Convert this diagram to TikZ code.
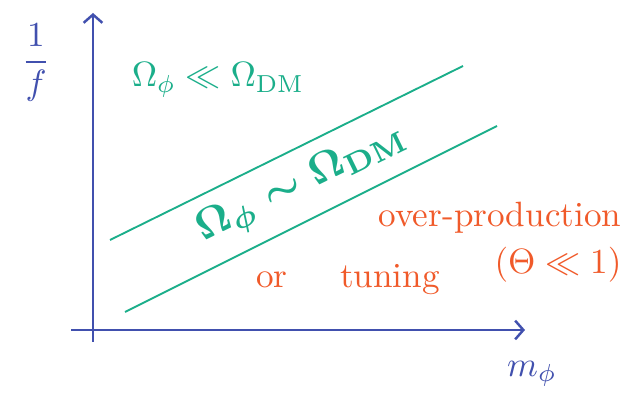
\documentclass[tikz,border=0pt]{standalone}
\usetikzlibrary{arrows.meta}

\definecolor{axisblue}{HTML}{4150AE}
\definecolor{bandgreen}{HTML}{1BAE8A}
\definecolor{noteorange}{HTML}{F05A2A}

\begin{document}
\begin{tikzpicture}[x=0.03cm, y=-0.03cm,
		axis/.style={axisblue, line width=2.1pt, -{Straight Barb[length=7pt, width=16pt, line width=2.1pt]}},
		band/.style={bandgreen, line width=1.6pt},
		greenlbl/.style={bandgreen, inner sep=0pt},
		orangelbl/.style={noteorange, inner sep=0pt},
		bluelbl/.style={axisblue, inner sep=0pt}]
		\useasboundingbox (0,0) rectangle (631,402);

		% axes
		\coordinate (ybot) at (93,342);
		\coordinate (ytip) at (93,13);
		\coordinate (xleft) at (71,330);
		\coordinate (xtip) at (525,330);
		\draw[axis] (ybot) -- (ytip);
		\draw[axis] (xleft) -- (xtip);

		% band
		\coordinate (bandAa) at (110,240);
		\coordinate (bandAb) at (463,66);
		\coordinate (bandBa) at (125,312);
		\coordinate (bandBb) at (497,126);
		\draw[band] (bandAa) -- (bandAb);
		\draw[band] (bandBa) -- (bandBb);

		% labels
		\node[bluelbl, scale=3] (lblfrac) at (36,63) {$\displaystyle\frac{1}{f}$};
		\node[bluelbl, scale=3] (lblmass) at (532,374) {$m_\phi$};
		\node[greenlbl, scale=3] (lblsmall) at (218,80) {$\Omega_\phi \ll \Omega_{\mathrm{DM}}$};
		\node[greenlbl, font=\boldmath, scale=3.6, rotate=26] (lblequal) at (302,184) {$\Omega_\phi \sim \Omega_{\mathrm{DM}}$};
		\node[orangelbl, scale=3] (lblover) at (500,218) {over-production};
		\node[orangelbl, scale=3] (lbltheta) at (558,265) {$(\Theta \ll 1)$};
		\node[orangelbl, scale=3] (lblor) at (348,280) {or\hspace{1.5em}tuning};
	\end{tikzpicture}
\end{document}
